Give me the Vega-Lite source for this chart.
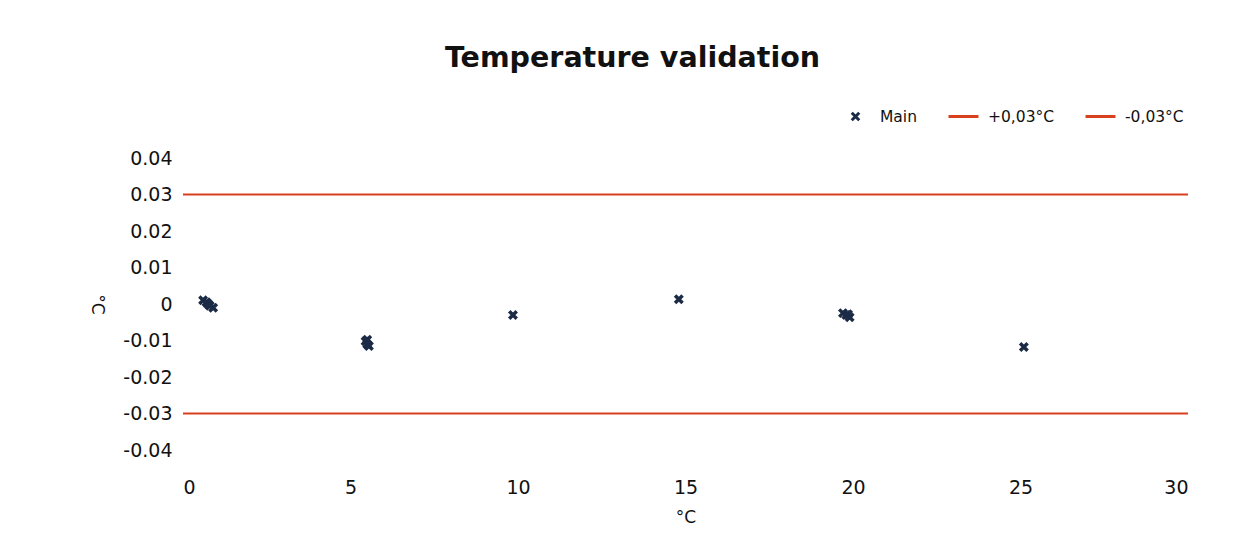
{
  "$schema": "https://vega.github.io/schema/vega-lite/v6.json",
  "width": 1005,
  "height": 292,
  "autosize": {"type": "none"},
  "padding": {"left": 183, "top": 158, "right": 50, "bottom": 107},
  "background": "white",
  "config": {
    "font": "DejaVu Sans",
    "view": {"stroke": null}
  },
  "title": {
    "text": "Temperature validation",
    "fontSize": 28.5,
    "fontWeight": "bold",
    "color": "#111111",
    "anchor": "middle",
    "frame": "group",
    "dx": -53,
    "offset": 20
  },
  "datasets": {
    "main": [
      {"x": 0.6, "y": 0.001, "series": "Main"},
      {"x": 0.7, "y": 0.0005, "series": "Main"},
      {"x": 0.75, "y": 0.0, "series": "Main"},
      {"x": 0.8, "y": -0.0005, "series": "Main"},
      {"x": 0.9, "y": -0.001, "series": "Main"},
      {"x": 5.45, "y": -0.0102, "series": "Main"},
      {"x": 5.5, "y": -0.011, "series": "Main"},
      {"x": 5.55, "y": -0.0115, "series": "Main"},
      {"x": 5.5, "y": -0.0098, "series": "Main"},
      {"x": 9.85, "y": -0.003, "series": "Main"},
      {"x": 14.8, "y": 0.0013, "series": "Main"},
      {"x": 19.7, "y": -0.0025, "series": "Main"},
      {"x": 19.8, "y": -0.003, "series": "Main"},
      {"x": 19.9, "y": -0.0036, "series": "Main"},
      {"x": 19.85, "y": -0.0028, "series": "Main"},
      {"x": 25.1, "y": -0.0118, "series": "Main"}
    ],
    "limits": [
      {"x": 0, "y": 0.03, "series": "+0,03°C"},
      {"x": 30, "y": 0.03, "series": "+0,03°C"},
      {"x": 0, "y": -0.03, "series": "-0,03°C"},
      {"x": 30, "y": -0.03, "series": "-0,03°C"}
    ]
  },
  "encoding": {
    "x": {
      "field": "x",
      "type": "quantitative",
      "scale": {"domain": [0, 30], "nice": false, "zero": false},
      "axis": {
        "title": "°C",
        "values": [0, 5, 10, 15, 20, 25, 30],
        "domain": false,
        "ticks": false,
        "grid": false,
        "labelFontSize": 19,
        "labelColor": "#111111",
        "labelPadding": 28,
        "titleFontSize": 17,
        "titleFontWeight": "normal",
        "titleColor": "#111111",
        "titlePadding": 12
      }
    },
    "y": {
      "field": "y",
      "type": "quantitative",
      "scale": {"domain": [-0.04, 0.04], "nice": false, "zero": false},
      "axis": {
        "title": "°C",
        "titleAngle": 90,
        "values": [-0.04, -0.03, -0.02, -0.01, 0, 0.01, 0.02, 0.03, 0.04],
        "labelExpr": "toString(round(datum.value*100)/100)",
        "domain": false,
        "ticks": false,
        "grid": false,
        "labelFontSize": 19,
        "labelColor": "#111111",
        "labelPadding": 11,
        "titleFontSize": 17,
        "titleFontWeight": "normal",
        "titleColor": "#111111",
        "titlePadding": 35
      }
    }
  },
  "layer": [
    {
      "data": {"name": "main"},
      "mark": {"type": "point", "filled": false, "size": 900, "strokeWidth": 3.5, "opacity": 1},
      "encoding": {
        "color": {
          "field": "series",
          "type": "nominal",
          "scale": {
            "domain": ["Main", "+0,03°C", "-0,03°C"],
            "range": ["#1c2b45", "#d9401e", "#d9401e"]
          },
          "legend": {
            "title": null,
            "orient": "none",
            "legendX": 648,
            "legendY": -66,
            "direction": "horizontal",
            "columns": 3,
            "gridAlign": "none",
            "fillColor": "white",
            "padding": 8,
            "symbolSize": 900,
            "symbolStrokeWidth": 3,
            "labelFontSize": 15.5,
            "labelColor": "#111111",
            "labelOffset": 8,
            "columnPadding": 24
          }
        },
        "shape": {
          "field": "series",
          "type": "nominal",
          "scale": {
            "domain": ["Main", "+0,03°C", "-0,03°C"],
            "range": ["M-0.25,-0.25L0.25,0.25M0.25,-0.25L-0.25,0.25", "M-1,0L1,0", "M-1,0L1,0"]
          },
          "legend": {
            "title": null,
            "orient": "none",
            "legendX": 648,
            "legendY": -66,
            "direction": "horizontal",
            "columns": 3,
            "gridAlign": "none",
            "fillColor": "white",
            "padding": 8,
            "symbolSize": 900,
            "symbolStrokeWidth": 3,
            "labelFontSize": 15.5,
            "labelColor": "#111111",
            "labelOffset": 8,
            "columnPadding": 24
          }
        }
      }
    },
    {
      "data": {"name": "limits"},
      "mark": {"type": "line", "strokeWidth": 2},
      "encoding": {
        "color": {"field": "series", "type": "nominal"},
        "detail": {"field": "series"}
      }
    }
  ]
}
